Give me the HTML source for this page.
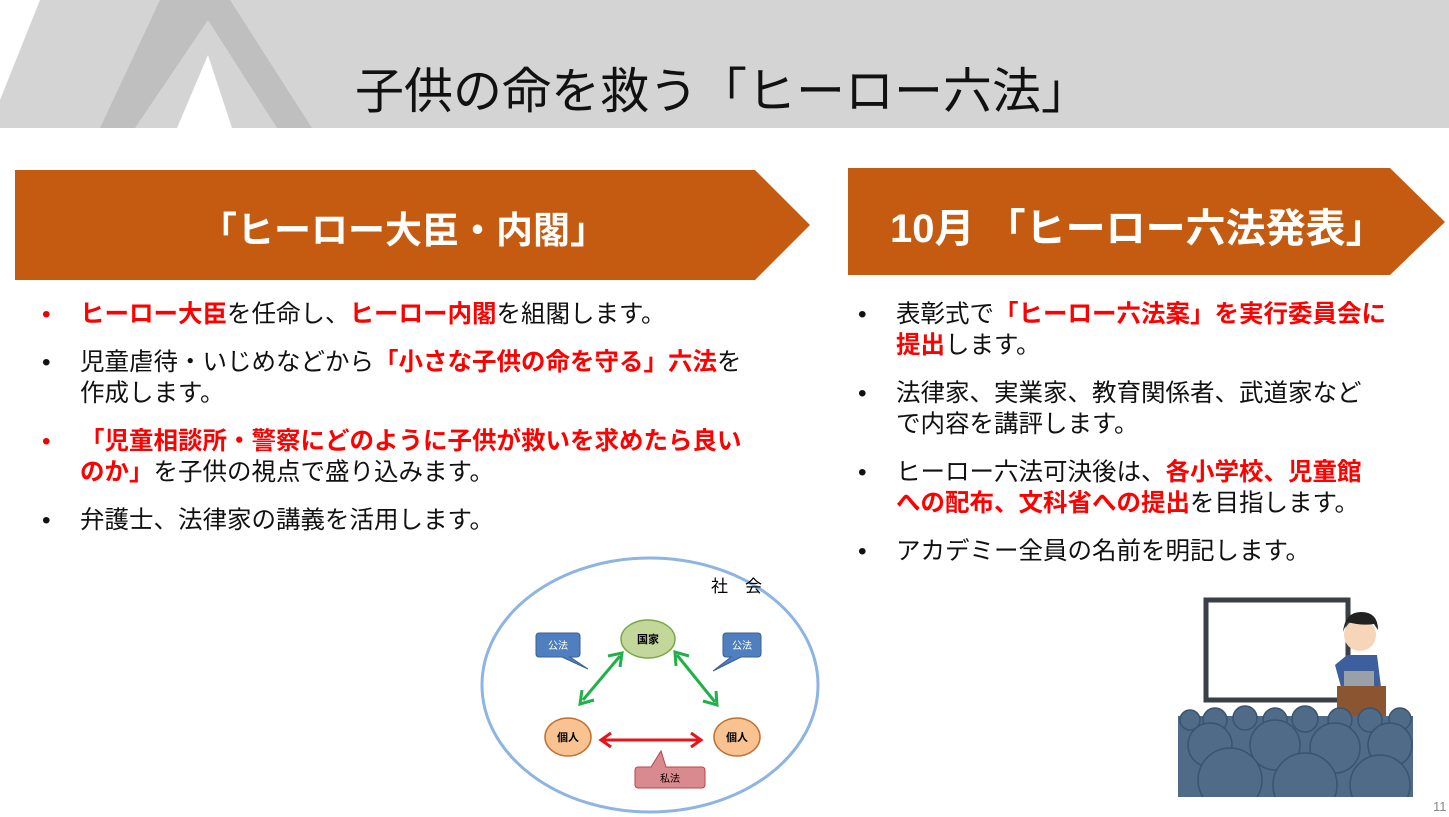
<!DOCTYPE html>
<html><head><meta charset="utf-8"><style>
body{margin:0;width:1449px;height:817px;overflow:hidden;background:#fff;font-family:"Liberation Sans","Noto Sans CJK JP",sans-serif;position:relative}
.t{position:absolute;white-space:nowrap}
ul{position:absolute;margin:0;padding:0;list-style:none;font-size:24.5px;line-height:31px;color:#111}
li{position:relative;padding-left:0;margin-bottom:17px;white-space:nowrap}
li:before{content:"•";position:absolute;left:-38px;color:#111}
li.r:before{color:#e00}
.red{color:#f00;font-weight:bold}
</style></head><body>
<svg width="1449" height="817" style="position:absolute;left:0;top:0">
<rect x="0" y="0" width="1449" height="128" fill="#d4d4d4"/>
<polygon points="0,0 40,0 0,100" fill="#fff"/>
<polygon points="160,0 230,0 312,128 277,128 208,20 135,128 100,128" fill="#bfbfbf"/>
<polygon points="208,55 232,128 177,128" fill="#fff"/>
<polygon points="15,170 755,170 810,225 755,280 15,280" fill="#c55a11"/>
<polygon points="848,168 1390,168 1445,222 1390,275 848,275" fill="#c55a11"/>
<ellipse cx="650" cy="685" rx="168" ry="127" fill="none" stroke="#8eb4e3" stroke-width="3"/>
<ellipse cx="648" cy="639" rx="27" ry="19" fill="#c4d79b" stroke="#77a844" stroke-width="1.5"/>
<ellipse cx="568" cy="737" rx="23" ry="19" fill="#f8c291" stroke="#c07030" stroke-width="1.5"/>
<ellipse cx="737" cy="737" rx="23" ry="19" fill="#f8c291" stroke="#c07030" stroke-width="1.5"/>
<path d="M539,633 h38 a3,3 0 0 1 3,3 v18 a3,3 0 0 1 -3,3 h-7 l18,12 l-26,-12 h-23 a3,3 0 0 1 -3,-3 v-18 a3,3 0 0 1 3,-3z" fill="#4f7fbf" stroke="#3a5f8f"/>
<path d="M726,633 h32 a3,3 0 0 1 3,3 v18 a3,3 0 0 1 -3,3 h-17 l-28,14 l18,-14 h-5 a3,3 0 0 1 -3,-3 v-18 a3,3 0 0 1 3,-3z" fill="#4f7fbf" stroke="#3a5f8f"/>
<path d="M638,767 h13 l10,-16 l5,16 h36 a3,3 0 0 1 3,3 v15 a3,3 0 0 1 -3,3 h-64 a3,3 0 0 1 -3,-3 v-15 a3,3 0 0 1 3,-3z" fill="#d98a8e" stroke="#c0404a"/>
<g stroke="#22b04a" stroke-width="3" fill="none">
<line x1="583" y1="700" x2="620" y2="656"/><polyline points="582,690 580,704 594,700"/><polyline points="608,656 622,653 620,667"/>
<line x1="677" y1="655" x2="715" y2="702"/><polyline points="676,666 675,652 689,656"/><polyline points="703,701 717,705 716,691"/>
</g>
<g stroke="#e8141a" stroke-width="3" fill="none">
<line x1="602" y1="740" x2="700" y2="740"/><polyline points="611,733 601,740 611,747"/><polyline points="691,733 701,740 691,747"/>
</g>
<text x="711" y="592" font-size="17" font-family="Liberation Sans,Noto Sans CJK JP,sans-serif">社　会</text>
<text x="648" y="643" font-size="11" font-weight="bold" text-anchor="middle" font-family="Noto Sans CJK JP,sans-serif">国家</text>
<text x="568" y="741" font-size="11" font-weight="bold" text-anchor="middle" font-family="Noto Sans CJK JP,sans-serif">個人</text>
<text x="737" y="741" font-size="11" font-weight="bold" text-anchor="middle" font-family="Noto Sans CJK JP,sans-serif">個人</text>
<text x="558" y="649" font-size="10" fill="#fff" text-anchor="middle" font-family="Noto Sans CJK JP,sans-serif">公法</text>
<text x="742" y="649" font-size="10" fill="#fff" text-anchor="middle" font-family="Noto Sans CJK JP,sans-serif">公法</text>
<text x="670" y="782" font-size="10" text-anchor="middle" font-family="Noto Sans CJK JP,sans-serif">私法</text>
<rect x="1206" y="600" width="142" height="100" fill="#fff" stroke="#3a3f48" stroke-width="5"/>
<circle cx="1360" cy="635" r="16" fill="#f6d5b8"/>
<path d="M1343,632 q2,-20 18,-20 q17,0 17,18 l-4,-6 q-12,2 -27,-2z" fill="#222"/>
<path d="M1335,665 l12,-10 h30 l4,32 h-40z" fill="#3d5f9e"/>
<rect x="1344" y="671" width="30" height="16" fill="#9aa0a8"/>
<rect x="1337" y="686" width="49" height="30" fill="#8a5530"/>
<rect x="1178" y="716" width="235" height="81" fill="#4f6b87"/>
<g fill="#4f6b87" stroke="#3a5470" stroke-width="1.5">
<circle cx="1190" cy="720" r="10"/><circle cx="1215" cy="720" r="12"/><circle cx="1245" cy="718" r="12"/><circle cx="1275" cy="720" r="12"/><circle cx="1305" cy="719" r="13"/><circle cx="1340" cy="720" r="12"/><circle cx="1370" cy="720" r="12"/><circle cx="1400" cy="719" r="11"/>
<circle cx="1210" cy="745" r="22"/><circle cx="1275" cy="745" r="25"/><circle cx="1335" cy="748" r="25"/><circle cx="1390" cy="745" r="22"/>
</g>
<clipPath id="cp"><rect x="1178" y="700" width="235" height="97"/></clipPath>
<g fill="#4f6b87" stroke="#3a5470" stroke-width="1.5" clip-path="url(#cp)">
<circle cx="1230" cy="780" r="32"/><circle cx="1305" cy="785" r="32"/><circle cx="1380" cy="785" r="30"/>
</g>
<text x="1433" y="811" font-size="13" fill="#888" font-family="Liberation Sans,sans-serif">11</text>
</svg>
<div class="t" style="left:355px;top:52px;font-size:49px;color:#111">子供の命を救う「ヒーロー六法」</div>
<div class="t" style="left:200px;top:200px;font-size:37px;color:#fff;font-weight:bold">「ヒーロー大臣・内閣」</div>
<div class="t" style="left:890px;top:196px;font-size:40px;color:#fff;font-weight:bold">10月 「ヒーロー六法発表」</div>
<ul style="left:80px;top:299px;width:720px">
<li class="r"><span class="red">ヒーロー大臣</span>を任命し、<span class="red">ヒーロー内閣</span>を組閣します。</li>
<li>児童虐待・いじめなどから<span class="red">「小さな子供の命を守る」六法</span>を<br>作成します。</li>
<li class="r"><span class="red">「児童相談所・警察にどのように子供が救いを求めたら良い<br>のか」</span>を子供の視点で盛り込みます。</li>
<li>弁護士、法律家の講義を活用します。</li>
</ul>
<ul style="left:896px;top:299px;width:540px">
<li>表彰式で<span class="red">「ヒーロー六法案」を実行委員会に<br>提出</span>します。</li>
<li>法律家、実業家、教育関係者、武道家など<br>で内容を講評します。</li>
<li>ヒーロー六法可決後は、<span class="red">各小学校、児童館<br>への配布、文科省への提出</span>を目指します。</li>
<li>アカデミー全員の名前を明記します。</li>
</ul>
</body></html>
